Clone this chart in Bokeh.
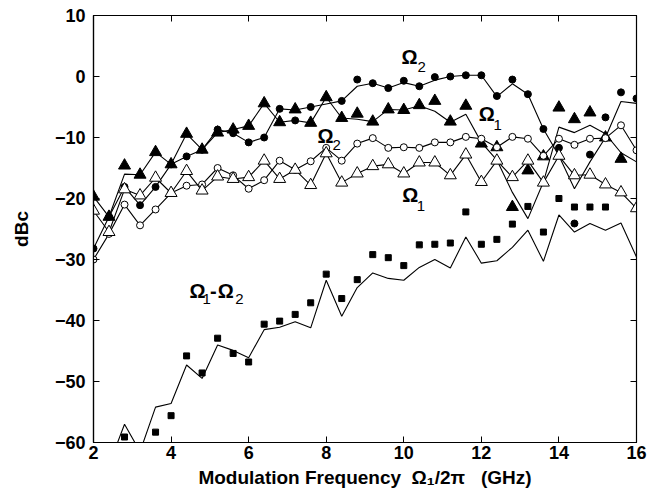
import math
from bokeh.plotting import figure
from bokeh.models import Range1d, LinearAxis, FixedTicker
from bokeh.core.properties import value
from bokeh.embed import file_html
from bokeh.resources import INLINE

NaN = float("nan")

freq = [2.0, 2.4, 2.8, 3.2, 3.6, 4.0, 4.4, 4.8, 5.2, 5.6, 6.0, 6.4, 6.8, 7.2, 7.6, 8.0, 8.4, 8.8,
        9.2, 9.6, 10.0, 10.4, 10.8, 11.2, 11.6, 12.0, 12.4, 12.8, 13.2, 13.6, 14.0, 14.4, 14.8, 15.2, 15.6, 16.0]

# measured Omega2 (filled circles)
w2_meas = [-28.2, -23.0, -18.1, -21.1, -18.1, -14.4, -13.1, -12.0, -8.7, -9.3, -10.8, -10.0, -5.3, -7.2, -5.0, NaN, -4.0, -0.5,
           -1.1, -1.9, -0.7, -1.6, -0.1, 0.0, 0.2, 0.2, -3.2, -0.5, -2.9, -8.6, -11.7, -24.1, -12.8, -6.7, -2.6, -3.6]
# computed Omega2 (line)
w2_calc = [-28.2, -23.0, -18.1, -21.1, -18.1, -14.4, -13.1, -12.0, -8.7, -9.3, -10.8, -10.0, -5.3, -5.5, -5.0, -4.5, -4.0, -1.6,
           -1.1, -1.9, -1.0, -1.6, -0.6, 0.0, 0.2, 0.2, -3.3, -1.2, -2.9, -8.6, -13.0, -18.4, -14.0, -10.0, -4.1, -4.4]
# measured Omega1 (filled triangles)
w1_meas = [-19.7, -23.0, -14.6, -16.1, -12.4, -14.4, -9.4, -12.0, -9.2, -8.7, -8.1, -4.4, -7.5, -5.4, -7.6, -3.4, -6.8, -6.1,
           -7.4, -5.4, -5.5, -4.7, -4.0, -7.4, -4.8, -11.0, -11.6, -21.4, -15.4, -13.1, -5.1, -7.0, -5.9, -10.0, -13.5, NaN]
# computed Omega1 (line)
w1_calc = [-19.7, -23.0, -16.0, -16.1, -12.4, -14.4, -9.4, -12.0, -9.2, -8.7, -8.1, -4.4, -7.5, -7.2, -7.6, -3.4, -6.8, -7.0,
           -7.4, -5.4, -5.5, -4.8, -5.7, -7.5, -6.2, -10.8, -13.7, -19.0, -23.3, -17.3, -8.3, -9.2, -8.0, -9.4, -12.5, -14.0]
# second Omega2 set (open circles)
w2_b = [-30.0, -25.8, -21.0, -24.4, -21.8, -19.1, -17.9, -17.7, -15.0, -16.2, -18.4, -17.0, -13.8, -15.3, -13.9, -11.7, -13.8, -11.0,
        -10.1, -11.7, -11.6, -11.7, -10.8, -10.8, -9.9, -10.2, -11.6, -9.9, -10.2, -13.0, -10.2, -11.2, -10.2, -10.1, -8.0, -12.1]
# second Omega1 set (open triangles)
w1_b = [-22.0, -25.5, -18.5, -19.5, -16.6, -19.1, -15.5, -18.7, -16.4, -16.8, -16.5, -13.8, -16.8, -15.3, -17.8, -12.6, -17.4, -15.9,
        -14.7, -14.4, -15.9, -14.1, -14.1, -16.2, -12.8, -17.3, -13.8, -16.5, -13.8, -17.4, -13.0, -16.2, -16.1, -17.7, -19.0, -21.6]
# Omega1-Omega2 measured (squares)
diff_meas = [NaN, NaN, -59.1, NaN, -58.3, -55.6, -45.8, -48.6, -42.9, -45.4, -46.8, -40.6, -40.1, -39.0, -37.1, -32.4, -36.4, -33.3,
             -29.2, -29.7, -31.0, -27.6, -27.5, -27.3, -22.2, -27.5, -26.7, -24.2, -21.3, -25.5, -20.0, -21.4, -21.4, -21.4, NaN, NaN]
# Omega1-Omega2 computed (line)
diff_calc = [-68.0, -63.7, -57.0, -61.5, -54.2, -53.6, -47.3, -49.5, -44.0, -44.9, -46.1, -41.5, -41.1, -40.2, -41.2, -33.4, -39.3, -34.6,
             -32.2, -33.1, -33.4, -31.3, -30.0, -31.4, -26.3, -30.6, -30.2, -28.0, -25.2, -30.3, -22.7, -25.5, -24.1, -25.2, -24.0, -29.6]

x_ticks = [2, 4, 6, 8, 10, 12, 14, 16]
y_ticks = [-60, -50, -40, -30, -20, -10, 0, 10]

FONT = "Liberation Sans"
NB = "\u00a0"

p = figure(width=657, height=500, output_backend="svg", toolbar_location=None,
           x_range=Range1d(2, 16), y_range=Range1d(-60, 10),
           min_border_left=93, min_border_right=21, min_border_top=15, min_border_bottom=58)
p.background_fill_color = "white"
p.border_fill_color = "white"
p.outline_line_color = "black"
p.outline_line_width = 1.2
p.xgrid.visible = False
p.ygrid.visible = False

for ax in (p.xaxis, p.yaxis):
    ax.major_tick_in = 6
    ax.major_tick_out = 0
    ax.minor_tick_line_color = None
    ax.axis_line_color = "black"
    ax.axis_line_width = 1.2
    ax.major_label_text_font = FONT
    ax.major_label_text_font_size = "18px"
    ax.major_label_text_font_style = "bold"
    ax.major_label_text_color = "black"
    ax.axis_label_text_font = FONT
    ax.axis_label_text_font_size = "19px"
    ax.axis_label_text_font_style = "bold"
    ax.axis_label_text_color = "black"

p.xaxis.ticker = FixedTicker(ticks=x_ticks)
p.yaxis.ticker = FixedTicker(ticks=y_ticks)
p.xaxis.axis_label = "Modulation Frequency" + NB * 2 + "Ω₁/2π" + NB * 3 + "(GHz)"
p.yaxis.axis_label = "dBc"
p.xaxis.major_label_standoff = 3
p.xaxis.axis_label_standoff = 5
p.yaxis.major_label_standoff = 8
p.yaxis.axis_label_standoff = 20

top = LinearAxis(ticker=FixedTicker(ticks=x_ticks), major_tick_in=6, major_tick_out=0,
                 minor_tick_line_color=None, major_label_text_font_size="1px",
                 major_label_text_color=None, axis_line_color="black")
right = LinearAxis(ticker=FixedTicker(ticks=y_ticks), major_tick_in=6, major_tick_out=0,
                   minor_tick_line_color=None, major_label_text_font_size="1px",
                   major_label_text_color=None, axis_line_color="black")
p.add_layout(top, "above")
p.add_layout(right, "right")

lw = 1.1
p.line(freq, w2_calc, line_color="black", line_width=lw)
p.line(freq, w1_calc, line_color="black", line_width=lw)
p.line(freq, w2_b, line_color="black", line_width=lw)
p.line(freq, w1_b, line_color="black", line_width=lw)
p.line(freq, diff_calc, line_color="black", line_width=lw)

p.scatter(freq, w2_meas, marker="circle", size=7, fill_color="black", line_color="black")
p.scatter(freq, w1_meas, marker="triangle", size=12, fill_color="black", line_color="black")
p.scatter(freq, w2_b, marker="circle", size=7, fill_color="white", line_color="black", line_width=1)
p.scatter(freq, w1_b, marker="triangle", size=12, fill_color="white", line_color="black", line_width=1)
p.scatter(freq, diff_meas, marker="square", size=6, fill_color="black", line_color="black")

# curve labels
big = ["Ω", "Ω", "Ω", "Ω", "Ω", "-", "Ω"]
big_x = [10.15, 12.14, 7.98, 10.17, 4.68, 5.09, 5.41]
big_y = [3.2, -6.1, -9.7, -19.5, -35.1, -35.1, -35.1]
sub = ["2", "1", "2", "1", "1", "2"]
sub_x = [10.46, 12.42, 8.27, 10.44, 4.92, 5.76]
sub_y = [1.6, -7.9, -11.2, -21.15, -36.5, -36.5]

p.text(big_x, big_y, text=big, text_font=value(FONT), text_font_size="20px", text_font_style="bold",
       text_align="center", text_baseline="middle", text_color="black")
p.text(sub_x, sub_y, text=sub, text_font=value(FONT), text_font_size="15px",
       text_align="center", text_baseline="middle", text_color="black")

open("out.html", "w").write(file_html(p, INLINE))
